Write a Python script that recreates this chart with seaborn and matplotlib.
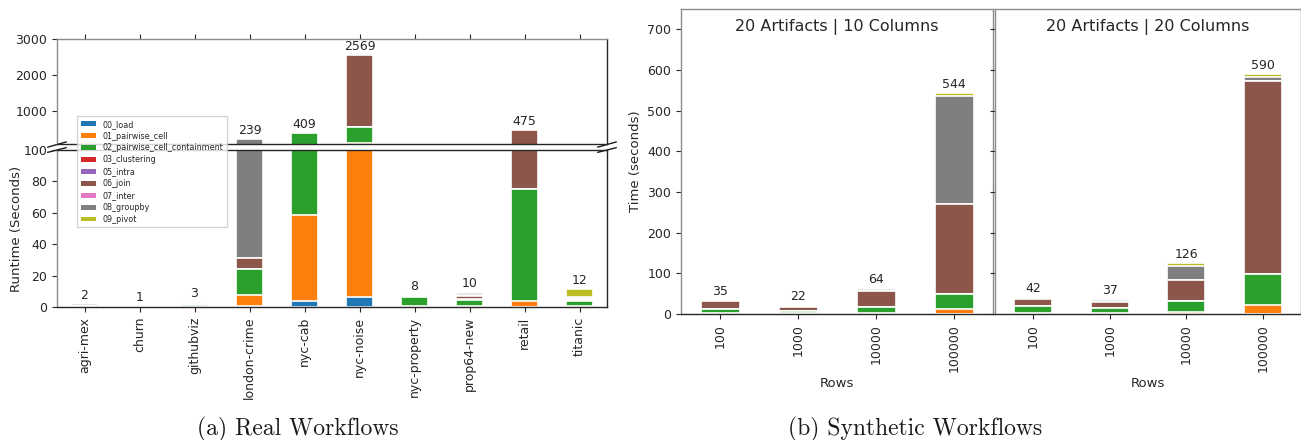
import numpy as np
import pandas as pd
import matplotlib
matplotlib.use("Agg")
import matplotlib.pyplot as plt
from matplotlib.patches import Patch
import seaborn as sns

stages = ["00_load", "01_pairwise_cell", "02_pairwise_cell_containment", "03_clustering",
          "05_intra", "06_join", "07_inter", "08_groupby", "09_pivot"]
stage_colors = ["tab:blue", "tab:orange", "tab:green", "tab:red", "tab:purple",
                "tab:brown", "tab:pink", "tab:gray", "tab:olive"]

# (a) real workflows -- runtime per stage (seconds)
workflows = ["agri-mex", "churn", "githubviz", "london-crime", "nyc-cab",
             "nyc-noise", "nyc-property", "prop64-new", "retail", "titanic"]
real_load     = [0.1, 0.0, 0.1, 0.5, 4.0, 6.5, 0.0, 0.1, 0.0, 0.1]
real_pairwise = [0.3, 0.1, 0.2, 7.0, 54.5, 113.5, 0.5, 0.4, 4.0, 0.3]
real_contain  = [0.2, 0.7, 1.0, 16.5, 350.5, 460.0, 6.0, 3.8, 71.0, 3.2]
real_cluster  = [0.0, 0.0, 0.0, 0.0, 0.0, 0.0, 0.0, 0.0, 0.0, 0.0]
real_intra    = [0.1, 0.0, 0.1, 0.0, 0.0, 0.0, 0.3, 0.7, 0.0, 0.8]
real_join     = [1.2, 0.1, 0.4, 7.0, 0.0, 1989.0, 0.4, 1.8, 400.0, 1.0]
real_inter    = [0.1, 0.0, 0.1, 0.0, 0.0, 0.0, 0.2, 0.6, 0.0, 0.4]
real_groupby  = [0.1, 0.0, 0.9, 208.0, 0.0, 0.0, 0.2, 1.6, 0.0, 0.3]
real_pivot    = [0.0, 0.0, 0.1, 0.0, 0.0, 0.0, 0.2, 0.6, 0.0, 5.6]

# (b) synthetic workflows
rows = ["100", "1000", "10000", "100000"]
panel_titles = ["20 Artifacts | 10 Columns", "20 Artifacts | 20 Columns"]
c10_load     = [0.5, 0.5, 1.0, 1.0]
c10_pairwise = [1.0, 1.0, 2.0, 12.0]
c10_contain  = [11.0, 6.0, 14.0, 36.0]
c10_join     = [19.0, 10.0, 39.0, 222.0]
c10_groupby  = [2.0, 3.0, 5.0, 266.0]
c10_pivot    = [1.5, 1.5, 3.0, 7.0]
c20_load     = [0.5, 0.5, 1.0, 1.0]
c20_pairwise = [2.0, 2.0, 4.0, 22.0]
c20_contain  = [18.0, 12.0, 26.0, 76.0]
c20_join     = [16.0, 16.0, 52.0, 475.0]
c20_groupby  = [3.0, 4.0, 35.0, 8.0]
c20_pivot    = [2.5, 2.5, 8.0, 8.0]

zeros4 = [0.0] * 4
real = pd.DataFrame(dict(zip(stages, [real_load, real_pairwise, real_contain, real_cluster,
                                      real_intra, real_join, real_inter, real_groupby,
                                      real_pivot])), index=workflows)
syn10 = pd.DataFrame(dict(zip(stages, [c10_load, c10_pairwise, c10_contain, zeros4, zeros4,
                                       c10_join, zeros4, c10_groupby, c10_pivot])), index=rows)
syn20 = pd.DataFrame(dict(zip(stages, [c20_load, c20_pairwise, c20_contain, zeros4, zeros4,
                                       c20_join, zeros4, c20_groupby, c20_pivot])), index=rows)

sns.set_theme(style="ticks")
plt.rcParams["font.family"] = ["DejaVu Sans"]
plt.rcParams["xtick.labelsize"] = 9
plt.rcParams["ytick.labelsize"] = 9
plt.rcParams["axes.labelsize"] = 9.5
plt.rcParams["xtick.major.size"] = 3.5
plt.rcParams["ytick.major.size"] = 3.5
plt.rcParams["xtick.major.width"] = 0.8
plt.rcParams["ytick.major.width"] = 0.8


def stacked(ax, df):
    # seaborn layered barplot: draw cumulative totals from the top stage down
    cum = df.cumsum(axis=1)
    for st, col in reversed(list(zip(stages, stage_colors))):
        sns.barplot(x=list(df.index), y=cum[st].values, order=list(df.index), color=col,
                    saturation=1, width=0.5, edgecolor="white", linewidth=1.2,
                    errorbar=None, ax=ax)


def style_spines(ax, light=("left", "top"), dark=("right", "bottom")):
    for s in light:
        ax.spines[s].set_color("0.55")
    for s in dark:
        ax.spines[s].set_color("0.15")
    for s in ax.spines.values():
        s.set_linewidth(1.0)


W, H = 1301, 440
fig = plt.figure(figsize=(W / 100, H / 100), dpi=100)

# ---------- (a) broken-axis chart ----------
ax_top = fig.add_axes([57 / W, 1 - 144 / H, 550 / W, 105 / H])
ax_bot = fig.add_axes([57 / W, 1 - 307 / H, 550 / W, 157 / H])
stacked(ax_top, real)
stacked(ax_bot, real)
ax_top.set_ylim(100, 3000)
ax_top.set_yticks([1000, 2000, 3000])
ax_bot.set_ylim(0, 100)
ax_bot.set_yticks([0, 20, 40, 60, 80, 100])
for ax in (ax_top, ax_bot):
    ax.set_xlim(-0.5, 9.5)
    ax.set_xlabel("")
ax_top.xaxis.tick_top()
ax_top.tick_params(axis="x", labeltop=False)
ax_bot.tick_params(axis="x", rotation=90)
ax_bot.set_ylabel("Runtime (Seconds)", labelpad=0.5)
style_spines(ax_top, light=("left", "top"), dark=("right", "bottom"))
style_spines(ax_bot, light=("left",), dark=("right", "bottom", "top"))

totals = real.sum(axis=1)
for i, t in enumerate(totals):
    ax = ax_top if t > 100 else ax_bot
    ax.annotate(f"{round(t)}", (i, t), xytext=(0, 1.5), textcoords="offset points",
                ha="center", va="bottom", fontsize=9, color="0.15")

# break marks
kw = dict(color="k", clip_on=False, linewidth=1)
dx = 0.017
ax_top.plot((-dx, dx), (-0.03, 0.02), transform=ax_top.transAxes, **kw)
ax_top.plot((1 - dx, 1 + dx), (-0.03, 0.02), transform=ax_top.transAxes, **kw)
ax_bot.plot((-dx, dx), (0.985, 1.015), transform=ax_bot.transAxes, **kw)
ax_bot.plot((1 - dx, 1 + dx), (0.985, 1.015), transform=ax_bot.transAxes, **kw)

handles = [Patch(facecolor=c, edgecolor="none", label=s) for s, c in zip(stages, stage_colors)]
fig.legend(handles=handles, loc="upper left", bbox_to_anchor=(73 / W, 1 - 112 / H),
           fontsize=5.8, frameon=True, framealpha=0.8, edgecolor="0.8", fancybox=False,
           handlelength=1.9, handleheight=0.55, handletextpad=0.8, labelspacing=0.36,
           borderpad=0.45)

# ---------- (b) synthetic ----------
ax1 = fig.add_axes([681 / W, 1 - 314 / H, 312 / W, 305 / H])
ax2 = fig.add_axes([995 / W, 1 - 314 / H, 306 / W, 305 / H], sharey=ax1)
for ax, df, title in ((ax1, syn10, panel_titles[0]), (ax2, syn20, panel_titles[1])):
    stacked(ax, df)
    ax.set_ylim(0, 750)
    ax.set_xlim(-0.5, 3.5)
    ax.set_xlabel("Rows")
    ax.tick_params(axis="x", rotation=90)
    ax.text(0.5, 0.94, title, transform=ax.transAxes, ha="center", va="center",
            fontsize=11.5, color="0.15")
    for i, t in enumerate(df.sum(axis=1)):
        ax.annotate(f"{round(t)}", (i, t), xytext=(0, 1.5), textcoords="offset points",
                    ha="center", va="bottom", fontsize=9, color="0.15")
    style_spines(ax, light=("left", "top", "right"), dark=("bottom",))
ax1.set_yticks(range(0, 701, 100))
ax1.set_ylabel("Time (seconds)")
ax2.tick_params(axis="y", labelleft=False)
ax2.set_ylabel("")

fig.text(298 / W, 1 - 429 / H, "(a) Real Workflows", family="cmr10", fontsize=17,
         ha="center", va="center", color="k")
fig.text(915 / W, 1 - 429 / H, "(b) Synthetic Workflows", family="cmr10", fontsize=17,
         ha="center", va="center", color="k")

fig.savefig("out.png", dpi=100)
